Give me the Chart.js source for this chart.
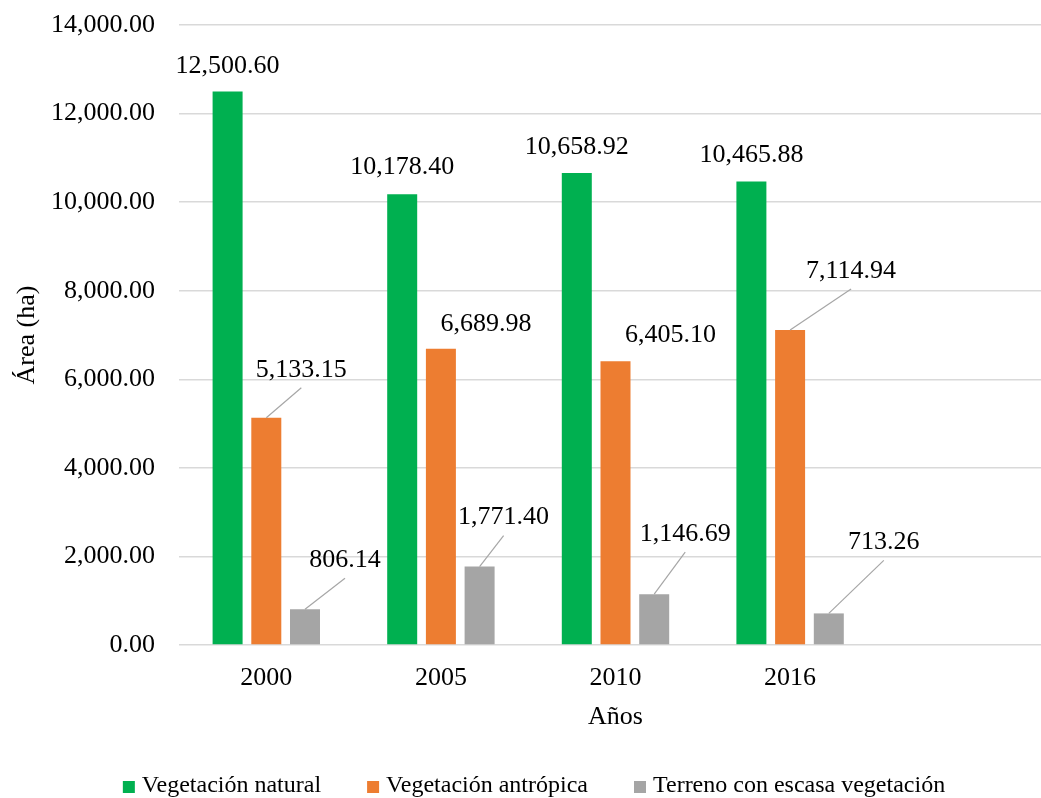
<!DOCTYPE html>
<html>
<head>
<meta charset="utf-8">
<script src="https://cdn.jsdelivr.net/npm/chart.js@4.4.1/dist/chart.umd.min.js"></script>
<style>
    html, body { margin: 0; padding: 0; background: #fff; overflow: hidden; }
    #wrap { width: 1052px; height: 798px; }
</style>
</head>
<body>
<div id="wrap"><canvas id="areaChart"></canvas></div>
<script>
// datos
const years = ['2000', '2005', '2010', '2016', ''];
const vegNatural = [12500.60, 10178.40, 10658.92, 10465.88];
const vegAntropica = [5133.15, 6689.98, 6405.10, 7114.94];
const terrenoEscaso = [806.14, 1771.40, 1146.69, 713.26];
const seriesNames = ['Vegetación natural', 'Vegetación antrópica', 'Terreno con escasa vegetación'];
const yMax = 14000;
const yStep = 2000;

// etiquetas: desplazamiento respecto a la parte superior de la barra [dx, dy, linea guia]
const labelOffsets = [
    [[0, -25, false], [0, -27, false], [0, -26, false], [0, -26, false]],
    [[35, -48, true], [45, -25, false], [55, -26, false], [61, -59, true]],
    [[40, -49, true], [24, -49, true], [31, -60, true], [55, -71, true]]
];

const FONT = '"Liberation Serif", "Times New Roman", serif';
const fmt = v => v.toLocaleString('en-US', { minimumFractionDigits: 2, maximumFractionDigits: 2 });

// Etiquetas de datos con linea guia
const dataLabels = {
    id: 'dataLabels',
    afterDatasetsDraw(chart) {
        const ctx = chart.ctx;
        ctx.save();
        ctx.font = '26px ' + FONT;
        ctx.textAlign = 'center';
        ctx.textBaseline = 'middle';
        chart.data.datasets.forEach((ds, i) => {
            chart.getDatasetMeta(i).data.forEach((bar, j) => {
                const off = labelOffsets[i][j];
                if (!off) return;
                const lx = bar.x + off[0];
                const ly = bar.y + off[1];
                if (off[2]) {
                    ctx.strokeStyle = '#A6A6A6';
                    ctx.lineWidth = 1.2;
                    ctx.beginPath();
                    ctx.moveTo(bar.x, bar.y);
                    ctx.lineTo(lx, ly + 18);
                    ctx.stroke();
                }
                ctx.fillStyle = '#000';
                ctx.fillText(fmt(ds.data[j]), lx, ly);
            });
        });
        ctx.restore();
    }
};

// Leyenda propia (espaciado como Excel)
const bottomLegend = {
    id: 'bottomLegend',
    afterDraw(chart) {
        const ctx = chart.ctx;
        ctx.save();
        ctx.font = '24px ' + FONT;
        ctx.textBaseline = 'middle';
        const box = 12, gap = 7, space = 46;
        const items = chart.data.datasets.map(ds => ({ text: ds.label, color: ds.backgroundColor, w: ctx.measureText(ds.label).width }));
        const total = items.reduce((s, it) => s + box + gap + it.w, 0) + space * (items.length - 1);
        let x = chart.width / 2 + 8 - total / 2;
        const y = 786;
        items.forEach(it => {
            ctx.fillStyle = it.color;
            ctx.fillRect(x, y - 5, box, box);
            ctx.fillStyle = '#000';
            ctx.fillText(it.text, x + box + gap, y);
            x += box + gap + it.w + space;
        });
        ctx.restore();
    }
};

new Chart(document.getElementById('areaChart'), {
    type: 'bar',
    data: {
        labels: years,
        datasets: [
            { label: seriesNames[0], data: vegNatural, backgroundColor: '#00B050' },
            { label: seriesNames[1], data: vegAntropica, backgroundColor: '#ED7D31' },
            { label: seriesNames[2], data: terrenoEscaso, backgroundColor: '#A5A5A5' }
        ]
    },
    options: {
        responsive: true,
        maintainAspectRatio: false,
        animation: false,
        categoryPercentage: 0.665,
        barPercentage: 0.775,
        layout: { padding: { top: 25, left: 8, right: 0, bottom: 61 } },
        plugins: {
            legend: { display: false },
            tooltip: { enabled: false }
        },
        scales: {
            x: {
                grid: { display: false, drawTicks: false },
                border: { display: false },
                ticks: { color: '#000', font: { family: FONT, size: 26 }, padding: 18 },
                title: { display: true, text: 'Años', color: '#000', font: { family: FONT, size: 26 }, padding: { top: 4, bottom: 4 } },
                afterFit: scale => { scale.height = 92; }
            },
            y: {
                min: 0,
                max: yMax,
                grid: { color: '#D9D9D9', lineWidth: 1.5, drawTicks: false },
                border: { display: false },
                ticks: { stepSize: yStep, color: '#000', font: { family: FONT, size: 26 }, padding: 24, callback: v => fmt(v) },
                title: { display: true, text: 'Área (ha)', color: '#000', font: { family: FONT, size: 26 }, padding: { top: 4, bottom: 4 } },
                afterFit: scale => {
                    scale.width = 171;
                    scale.paddingTop = 0;
                    scale.paddingBottom = 0;
                }
            }
        }
    },
    plugins: [dataLabels, bottomLegend]
});
</script>
</body>
</html>
